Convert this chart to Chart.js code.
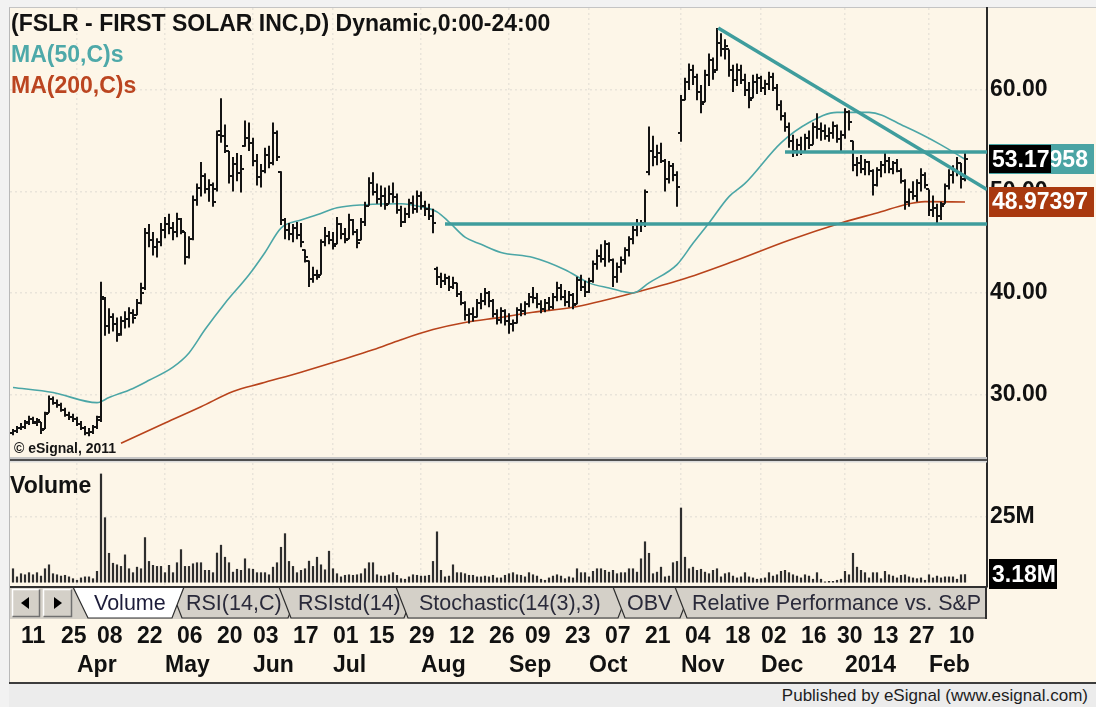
<!DOCTYPE html>
<html>
<head>
<meta charset="utf-8">
<title>FSLR - First Solar daily</title>
<script src="https://cdn.jsdelivr.net/npm/chart.js@4.4.1/dist/chart.umd.min.js"></script>
<style>
html, body { margin: 0; padding: 0; }
body { position: relative; width: 1096px; height: 707px; overflow: hidden; background: #f2f2f2;
  font-family: "Liberation Sans", Arial, sans-serif; }
#panel { position: absolute; left: 9px; top: 7px; width: 1087px; height: 676px; box-sizing: border-box;
  background: #fdf6e8; border-left: 1px solid #b9b9b9; border-top: 1px solid #c4c4c4; }
#footer { position: absolute; left: 9px; top: 682px; width: 1087px; height: 25px; box-sizing: border-box;
  background: #ececec; border-top: 2px solid #3c3c3c; }
#footer span { position: absolute; right: 8px; top: 3px; font-size: 17px; line-height: 17px; color: #1e1e1e; white-space: nowrap; }
#chart { position: absolute; left: 0; top: 0; }
#tabs { position: absolute; left: 0; top: 586px; }
.t { position: absolute; white-space: nowrap; font-weight: bold; font-size: 23px; line-height: 23px; }
</style>
</head>
<body>
<div id="panel"></div>
<div id="footer"><span>Published by eSignal (www.esignal.com)</span></div>
<canvas id="chart" width="1096" height="707"></canvas>

<svg id="tabs" width="987" height="34" xmlns="http://www.w3.org/2000/svg"
     font-family="Liberation Sans, Arial, sans-serif" font-size="21.5">
  <rect x="10" y="1" width="977" height="32" fill="#d4d0c8"/>
  <rect x="12" y="3" width="28" height="28" fill="#d4d0c8"/>
  <path d="M12.5 30.5V3.5H39.5" stroke="#ffffff" stroke-width="1.5" fill="none"/>
  <path d="M12.5 30.5H39.5V3.5" stroke="#707070" stroke-width="1.5" fill="none"/>
  <polygon points="21,17 29,11 29,23" fill="#000"/>
  <rect x="43" y="3" width="29" height="28" fill="#d4d0c8"/>
  <path d="M43.5 30.5V3.5H71.5" stroke="#ffffff" stroke-width="1.5" fill="none"/>
  <path d="M43.5 30.5H71.5V3.5" stroke="#707070" stroke-width="1.5" fill="none"/>
  <polygon points="62,17 54,11 54,23" fill="#000"/>

  <polygon points="170,1 300,1 288,32 182,32" fill="#d4d0c8" stroke="#2e2e2e" stroke-width="1.2"/>
  <text x="186" y="24" fill="#2a2a3a">RSI(14,C)</text>
  <polygon points="279,1 416,1 404,32 291,32" fill="#d4d0c8" stroke="#2e2e2e" stroke-width="1.2"/>
  <text x="298" y="24" fill="#2a2a3a">RSIstd(14)</text>
  <polygon points="396,1 630,1 618,32 408,32" fill="#d4d0c8" stroke="#2e2e2e" stroke-width="1.2"/>
  <text x="419" y="24" fill="#2a2a3a">Stochastic(14(3),3)</text>
  <polygon points="613,1 692,1 680,32 625,32" fill="#d4d0c8" stroke="#2e2e2e" stroke-width="1.2"/>
  <text x="627" y="24" fill="#2a2a3a">OBV</text>
  <polygon points="675,1 1010,1 998,32 687,32" fill="#d4d0c8" stroke="#2e2e2e" stroke-width="1.2"/>
  <text x="692" y="24" fill="#2a2a3a">Relative Performance vs. S&amp;P 500</text>
  <polygon points="73,1 184,1 172,32 88,32" fill="#ffffff" stroke="#2e2e2e" stroke-width="1.2"/>
  <text x="94" y="24" fill="#1c1c3a">Volume</text>

  <line x1="10" y1="1" x2="987" y2="1" stroke="#303030" stroke-width="2"/>
  <line x1="986" y1="1" x2="986" y2="33" stroke="#303030" stroke-width="2"/>
</svg>

<div class="t" style="left:11px;top:12px;color:#121212">(FSLR - FIRST SOLAR INC,D) Dynamic,0:00-24:00</div>
<div class="t" style="left:11px;top:43px;color:#4ea9a9">MA(50,C)s</div>
<div class="t" style="left:11px;top:74px;color:#bb4520">MA(200,C)s</div>
<div class="t" style="left:14px;top:441px;font-size:14px;line-height:14px;color:#151515">© eSignal, 2011</div>
<div class="t" style="left:10px;top:474px;color:#121212">Volume</div>

<script>
// daily bars, 7 Mar 2013 (index 0) to 14 Feb 2014 (index 238), one value per trading day
const opens = [
  26.2,26.4,26.7,26.8,27.2,27.6,27.2,27.3,26.6,28.2,
  29.6,29.2,29.0,28.5,28.0,27.8,27.6,27.1,26.7,26.2,
  26.3,26.8,27.8,39.4,36.8,37.6,36.9,36.0,37.2,37.4,
  38.0,37.8,39.0,40.5,45.9,45.2,44.5,45.0,46.2,46.8,
  46.4,46.0,47.3,46.0,43.5,45.3,49.2,50.3,51.5,50.2,
  50.6,50.2,56.0,55.5,54.0,51.5,52.7,51.8,54.5,55.3,
  54.8,53.0,51.4,52.0,53.6,52.8,55.8,51.9,47.2,46.2,
  45.8,46.4,45.7,44.2,43.2,41.4,41.8,41.8,45.0,45.6,
  45.2,44.8,46.8,45.8,45.3,47.2,46.0,45.2,47.0,48.6,
  50.8,50.0,49.3,49.6,48.8,49.8,49.5,48.2,47.0,47.8,
  48.9,48.3,49.6,48.6,48.3,47.6,42.4,41.6,41.2,41.5,
  40.6,41.0,39.9,39.0,37.8,37.9,37.6,39.0,39.2,40.0,
  39.2,37.9,37.3,38.2,37.2,36.9,37.0,38.3,38.2,38.9,
  39.6,39.5,38.9,38.4,39.0,38.6,39.6,40.5,39.6,39.1,
  39.8,38.9,41.3,40.6,40.1,41.2,42.9,43.6,43.4,44.8,
  43.3,41.6,42.6,43.3,44.2,45.3,46.2,46.8,46.9,51.9,
  54.0,53.4,53.8,53.0,51.2,52.5,51.6,55.8,59.0,60.8,
  62.0,61.3,59.8,58.8,61.5,63.0,62.0,64.6,64.0,64.0,
  62.0,61.0,62.0,61.0,60.0,59.2,60.8,61.2,60.2,60.6,
  61.3,60.2,58.5,57.4,56.4,55.0,54.0,54.6,53.9,55.3,
  54.6,56.4,56.2,56.0,55.5,55.8,56.5,55.2,55.6,57.8,
  55.0,52.6,52.8,52.2,52.9,52.0,50.6,52.1,52.6,53.0,
  52.2,52.8,52.0,51.0,49.0,50.0,49.6,50.8,51.6,50.2,
  48.2,48.4,47.6,48.8,50.5,51.6,52.0,52.8,51.2
];
const highs = [
  26.6,26.9,27.2,27.5,27.9,27.8,27.7,27.3,28.3,29.9,
  29.8,29.5,29.2,28.7,28.3,28.1,27.8,27.4,26.9,26.7,
  27.0,27.9,41.1,39.6,38.5,38.0,37.6,37.7,38.2,38.6,
  38.4,39.4,41.0,46.4,46.8,46.0,45.4,46.9,47.5,47.8,
  47.0,47.9,47.4,46.0,45.6,49.6,50.8,52.9,51.8,51.2,
  50.9,56.0,59.2,56.6,54.0,53.4,53.8,53.6,57.0,56.8,
  55.3,53.7,52.7,54.3,54.5,56.8,56.0,52.0,47.4,46.9,
  46.8,47.0,46.9,44.3,43.2,42.6,42.3,45.3,46.5,46.1,
  46.0,47.5,46.9,46.4,47.8,47.3,46.3,47.4,49.0,51.4,
  51.9,50.8,50.6,50.4,50.6,50.9,49.8,48.6,48.4,49.3,
  49.6,50.1,50.0,49.1,48.8,48.3,42.6,42.0,41.9,41.7,
  41.6,41.0,40.2,39.2,38.5,38.6,39.4,40.0,40.5,40.2,
  39.4,38.4,38.6,38.4,38.0,37.4,38.6,39.0,39.2,40.0,
  40.6,40.0,39.3,39.4,39.6,40.0,41.1,40.9,40.3,40.2,
  40.0,41.6,41.8,41.2,41.5,43.2,44.3,44.8,45.2,45.0,
  43.4,43.0,43.6,44.5,45.6,46.6,47.3,47.2,50.2,56.4,
  55.5,54.6,54.8,53.2,53.0,52.8,52.0,59.5,61.2,62.6,
  62.5,61.6,60.5,62.0,63.6,63.2,66.1,65.6,65.0,64.0,
  62.5,62.6,62.5,61.6,60.8,61.5,61.6,61.4,61.0,61.8,
  61.7,60.6,59.0,57.8,56.8,55.6,55.2,55.4,55.7,56.0,
  56.8,57.7,56.8,56.6,56.3,56.9,56.6,56.0,58.2,58.0,
  55.0,53.4,53.6,53.2,53.0,52.2,52.4,53.0,53.9,53.4,
  53.0,53.2,52.3,51.2,50.3,51.0,51.2,52.3,51.9,50.2,
  49.6,48.8,49.0,50.8,52.2,52.6,53.4,52.8,53.8
];
const lows = [
  26.0,26.2,26.5,26.6,27.0,27.1,26.9,26.1,26.6,28.2,
  29.0,28.7,28.3,27.8,27.5,27.3,26.9,26.5,26.0,25.9,
  26.1,26.6,27.3,35.8,36.0,36.2,35.2,35.8,36.5,36.6,
  37.0,37.8,38.9,40.3,44.5,43.7,43.5,44.6,45.4,45.8,
  45.2,45.5,45.8,42.8,43.4,45.2,48.6,49.5,49.8,49.0,
  48.5,50.0,54.8,53.8,50.8,50.0,51.0,49.9,54.4,54.0,
  52.5,50.6,50.4,51.8,52.3,52.6,53.0,46.7,45.3,45.2,
  45.0,45.3,44.5,43.0,40.6,41.0,41.3,41.8,44.6,44.8,
  44.3,44.8,45.3,44.9,45.3,45.7,44.4,45.2,46.6,48.6,
  49.6,48.8,48.5,48.2,48.8,48.9,47.8,46.5,46.9,47.4,
  47.8,47.9,48.2,47.6,47.2,45.9,40.8,40.5,40.8,40.2,
  40.4,39.6,38.8,37.3,37.0,37.2,37.6,38.4,38.8,38.6,
  37.6,36.9,37.0,36.8,36.0,36.2,37.0,37.7,37.8,38.6,
  39.0,38.5,38.0,38.1,38.3,38.4,39.2,39.3,38.7,38.6,
  38.4,38.9,40.2,39.6,40.0,41.0,42.3,43.0,42.6,43.0,
  40.6,41.0,42.0,42.8,43.6,44.8,45.6,46.0,46.5,51.6,
  52.5,52.6,52.8,50.0,50.8,51.0,48.5,54.9,59.0,60.0,
  60.5,59.0,57.7,58.8,60.4,61.0,61.9,63.3,63.0,61.3,
  59.8,60.4,60.6,59.4,58.2,59.2,59.6,59.8,59.5,60.0,
  59.9,58.0,57.0,55.9,54.3,53.4,53.5,53.6,53.8,54.2,
  54.6,55.2,55.0,55.1,54.9,55.2,54.8,54.0,55.2,56.0,
  52.0,51.5,51.8,51.6,51.6,49.6,50.5,51.4,51.8,51.8,
  51.7,51.9,50.8,48.2,48.5,49.2,49.0,50.0,50.3,47.6,
  47.5,46.9,47.2,48.8,50.2,50.8,51.5,50.3,51.0
];
const closes = [
  26.4,26.7,26.8,27.3,27.6,27.3,27.5,26.5,28.1,29.6,
  29.2,29.0,28.5,28.0,27.8,27.6,27.1,26.7,26.2,26.3,
  26.8,27.5,39.6,36.8,37.6,36.9,35.9,37.2,37.4,38.0,
  37.5,39.0,40.0,45.9,45.2,44.5,45.0,46.2,46.8,46.4,
  46.0,47.3,46.1,43.5,45.3,49.2,50.3,51.5,50.2,50.6,
  49.0,55.6,55.5,54.5,51.5,52.7,51.8,52.2,55.3,54.8,
  53.0,51.4,52.0,53.6,52.8,55.8,53.4,47.2,46.2,45.8,
  46.4,45.7,45.0,43.5,41.4,41.8,41.6,45.0,45.6,45.2,
  44.6,46.8,45.8,45.2,47.2,46.0,44.9,47.0,48.6,50.8,
  50.0,49.3,49.6,48.7,49.8,49.5,48.2,47.0,47.8,48.9,
  48.3,49.6,48.6,48.3,47.6,46.9,41.6,41.2,41.5,40.6,
  41.0,39.9,39.0,37.8,37.9,37.6,39.0,39.2,40.0,39.2,
  37.9,37.3,38.2,37.2,36.9,37.0,38.3,38.2,38.9,39.6,
  39.5,38.9,38.4,39.0,38.6,39.6,40.5,39.6,39.1,39.8,
  38.8,41.3,40.6,40.1,41.2,42.9,43.6,43.4,44.8,43.3,
  41.6,42.6,43.3,44.2,45.3,46.2,46.8,46.9,50.0,54.0,
  53.4,53.8,53.0,51.2,52.5,51.6,50.4,59.0,60.8,62.0,
  61.3,59.8,58.6,61.5,63.0,61.8,64.6,64.0,64.3,62.0,
  61.0,62.0,61.0,60.0,59.0,60.8,61.2,60.2,60.6,61.3,
  60.2,58.5,57.4,56.4,55.0,54.0,54.6,53.9,55.3,54.6,
  56.4,56.2,56.0,55.5,55.8,56.5,55.2,55.6,57.8,56.8,
  52.6,52.8,52.2,52.9,52.0,50.6,52.1,52.6,53.0,52.2,
  52.8,52.0,51.0,49.0,50.0,49.6,50.8,51.6,50.6,48.2,
  48.4,47.6,48.6,50.5,51.6,52.0,52.8,51.2,53.17
];
// volume in millions of shares
const volumes = [
  5.4,2.3,3.5,3.1,3.9,3.1,3.9,2.6,5.4,6.9,
  3.5,3.1,2.6,2.9,2.3,1.6,1.0,1.9,2.3,2.3,
  1.6,4.4,41.6,24.9,11.3,7.5,6.9,6.3,10.7,5.4,
  3.9,6.0,5.4,17.3,8.2,6.7,6.3,6.3,3.9,6.7,
  3.9,7.7,12.7,6.3,6.3,7.3,7.7,7.7,4.8,4.8,
  3.9,11.4,14.4,9.8,7.7,4.1,5.2,4.8,9.2,5.4,
  5.2,3.9,3.9,3.9,3.1,6.0,7.7,13.6,18.8,8.2,
  6.3,3.9,4.8,5.4,8.3,6.3,9.8,6.9,5.0,12.1,
  5.4,3.5,2.3,2.9,3.1,2.9,3.1,3.5,5.4,7.7,
  7.7,3.1,2.6,2.6,3.1,3.9,2.9,1.6,1.4,2.3,
  3.1,2.9,2.6,2.6,2.9,8.2,19.5,4.8,2.3,2.6,
  6.9,3.9,3.9,3.5,2.9,2.9,2.3,2.3,2.6,2.3,
  2.9,1.9,1.9,2.9,3.5,3.9,3.1,2.9,2.3,3.9,
  3.1,2.6,1.4,1.0,1.9,2.6,3.1,2.6,1.6,2.3,
  1.9,5.4,3.9,3.9,2.3,4.4,5.4,5.4,4.8,4.1,
  4.8,3.5,3.9,3.9,5.4,5.4,4.1,9.2,15.7,11.3,
  3.5,4.1,6.0,2.3,2.6,7.7,8.2,28.6,9.8,5.4,
  6.0,4.8,5.2,4.1,3.5,4.8,5.4,2.3,3.5,3.9,
  2.6,1.9,2.3,3.9,2.3,1.9,1.4,1.6,1.9,3.9,
  2.6,3.1,4.4,4.8,3.9,3.1,2.6,1.9,3.1,2.6,
  1.4,3.9,1.4,0.4,0.6,0.6,1.0,1.4,4.4,3.1,
  11.3,6.0,4.8,3.9,1.9,3.9,3.9,1.6,4.4,3.1,
  2.6,1.9,2.9,3.1,2.3,1.9,1.6,1.9,1.0,3.1,
  1.9,2.6,1.9,2.3,2.3,2.3,1.4,3.1,3.18
];

// moving averages (trading-day index, value)
const ma50Idx = [0,10,21,24,30,34,40,44,48,53,59,63,67,72,76,81,88,97,102,106,109,113,117,122,130,138,144,149,155,159,166,170,174,179,183,192,199,206,214,223,232,238];
const ma50Val = [30.7,30.2,29.2,29.7,30.6,31.4,32.7,34.1,36.4,39.0,41.8,44.0,46.4,47.2,47.7,48.4,48.7,48.8,48.5,48.0,47.0,45.5,44.8,44.0,43.5,42.3,41.0,40.5,40.0,41.0,42.8,44.9,46.9,49.5,50.8,54.8,56.8,57.8,57.8,56.4,54.6,53.18];
const ma200Idx = [27,38,47,55,62,72,82,90,97,105,113,122,130,140,155,167,180,194,207,217,223,228,238];
const ma200Val = [25.2,27.2,28.8,30.3,31.1,32.2,33.4,34.4,35.4,36.4,37.1,37.6,38.1,38.6,40.0,41.3,43.1,45.2,46.9,48.0,48.7,49.0,48.97];

// hand-drawn trend lines: [index, price] pairs
const supportLow = [[108, 46.8], [243.5, 46.8]];
const supportHigh = [[193, 53.9], [243.5, 53.9]];
const downTrend = [[176.3, 66.1], [243.5, 50.2]];

// last values shown in the right-hand tags
const lastClose = 53.17;
const lastMa50 = 53.17958;
const lastMa200 = 48.97397;
const lastVolume = 3.18;

// axes
const dayTickIdx = [2,12,21,31,41,51,60,70,80,89,99,109,119,128,138,148,158,168,178,187,197,206,215,224,234];
const dayTickText = ['11','25','08','22','06','20','03','17','01','15','29','12','26','09','23','07','21','04','18','02','16','30','13','27','10'];
const monthTickIdx = [16,38,60,80,102,124,144,167,187,208,229];
const monthTickText = ['Apr','May','Jun','Jul','Aug','Sep','Oct','Nov','Dec','2014','Feb'];
const priceTicks = [30, 40, 50, 60];
const volumeTicks = [25];

const TEAL = '#3f9d9d';
const MA50_COLOR = '#4ba6a6';
const MA200_COLOR = '#b8431b';
const BAR_COLOR = '#141414';
const GRID = '#e9e4da';

Chart.defaults.font.family = '"Liberation Sans", Arial, sans-serif';

function tickImage(side) {
  var c = document.createElement('canvas');
  c.width = 6;
  c.height = 2;
  var g = c.getContext('2d');
  g.fillStyle = BAR_COLOR;
  if (side === 'left') {
    g.fillRect(0, 0, 3, 2);
  } else {
    g.fillRect(3, 0, 3, 2);
  }
  return c;
}

function toPoints(pairs) {
  return pairs.map(p => ({ x: p[0], y: p[1] }));
}

function trendSet(pairs) {
  return {
    type: 'line', data: toPoints(pairs), yAxisID: 'y',
    borderColor: TEAL, borderWidth: 3.5, pointRadius: 0, tension: 0
  };
}

function noPad(s) {
  s.paddingLeft = 0;
  s.paddingRight = 0;
  s.paddingTop = 0;
  s.paddingBottom = 0;
}

function drawTag(ctx, x, y, w, h, fill, text) {
  ctx.fillStyle = fill;
  ctx.fillRect(x, Math.round(y - h / 2), w, h);
  ctx.fillStyle = '#ffffff';
  ctx.textAlign = 'left';
  ctx.textBaseline = 'middle';
  ctx.fillText(text, x + 3, y + 1);
}

const panelDecor = {
  id: 'panelDecor',
  afterDraw(chart) {
    const ctx = chart.ctx;
    const a = chart.chartArea;
    const y = chart.scales.y;
    const yv = chart.scales.yv;
    const split = y.bottom;
    ctx.save();
    // separator between price and volume panes
    ctx.fillStyle = '#c6c6c6';
    ctx.fillRect(a.left, split - 3, a.right - a.left, 2);
    ctx.fillStyle = '#4e4e4e';
    ctx.fillRect(a.left, split - 1, a.right - a.left, 2);
    ctx.fillStyle = '#dcdcdc';
    ctx.fillRect(a.left, split + 1, a.right - a.left, 1.5);

    ctx.font = 'bold 23px "Liberation Sans", Arial, sans-serif';
    const tx = a.right + 2;
    drawTag(ctx, tx, y.getPixelForValue(lastMa50), 105, 30, '#4aa4a4', lastMa50.toFixed(5));
    drawTag(ctx, tx, y.getPixelForValue(lastClose), 62, 28, '#000000', lastClose.toFixed(2));
    drawTag(ctx, tx, y.getPixelForValue(lastMa200), 105, 30, '#a9390f', lastMa200.toFixed(5));
    drawTag(ctx, tx, yv.getPixelForValue(lastVolume), 68, 30, '#000000', lastVolume.toFixed(2) + 'M');
    ctx.restore();
  }
};

const openTick = tickImage('left');
const closeTick = tickImage('right');
const labelFont = { size: 23, weight: 'bold' };

new Chart(document.getElementById('chart'), {
  type: 'bar',
  data: {
    datasets: [
      trendSet(supportLow),
      trendSet(supportHigh),
      trendSet(downTrend),
      {
        type: 'line', yAxisID: 'y', showLine: false,
        data: opens.map((v, i) => ({ x: i, y: v })),
        pointStyle: openTick, pointRadius: 3, pointHoverRadius: 3
      },
      {
        type: 'line', yAxisID: 'y', showLine: false,
        data: closes.map((v, i) => ({ x: i, y: v })),
        pointStyle: closeTick, pointRadius: 3, pointHoverRadius: 3
      },
      {
        type: 'bar', yAxisID: 'y',
        data: highs.map((h, i) => ({ x: i, y: [lows[i], h] })),
        backgroundColor: BAR_COLOR, grouped: false,
        categoryPercentage: 1, barPercentage: 0.5
      },
      {
        type: 'line', yAxisID: 'y',
        data: ma50Idx.map((d, i) => ({ x: d, y: ma50Val[i] })),
        borderColor: MA50_COLOR, borderWidth: 1.6, pointRadius: 0,
        cubicInterpolationMode: 'monotone'
      },
      {
        type: 'line', yAxisID: 'y',
        data: ma200Idx.map((d, i) => ({ x: d, y: ma200Val[i] })),
        borderColor: MA200_COLOR, borderWidth: 1.6, pointRadius: 0,
        cubicInterpolationMode: 'monotone'
      },
      {
        type: 'bar', yAxisID: 'yv',
        data: volumes.map((v, i) => ({ x: i, y: v })),
        backgroundColor: '#2e2e2e', grouped: false,
        categoryPercentage: 1, barPercentage: 0.55
      }
    ]
  },
  options: {
    responsive: false,
    animation: false,
    events: [],
    layout: { padding: { left: 10, top: 8, right: 0, bottom: 23 } },
    plugins: { legend: { display: false }, tooltip: { enabled: false } },
    scales: {
      x: {
        type: 'linear', position: 'bottom', min: -0.75, max: 243.5, offset: false,
        afterBuildTicks: s => { s.ticks = dayTickIdx.map(v => ({ value: v })); },
        afterFit: s => { noPad(s); s.height = 61; },
        grid: { display: false, drawTicks: false, offset: false },
        border: { display: false },
        ticks: {
          align: 'start', autoSkip: false, maxRotation: 0, minRotation: 0, padding: 36,
          color: '#111111', font: labelFont,
          callback: (v, i) => dayTickText[i]
        }
      },
      xm: {
        type: 'linear', position: 'bottom', min: -0.75, max: 243.5, offset: false,
        afterBuildTicks: s => { s.ticks = monthTickIdx.map(v => ({ value: v })); },
        afterFit: s => { noPad(s); s.height = 36; },
        grid: { color: GRID, lineWidth: 1.5, drawTicks: false, offset: false },
        border: { display: false, dash: [2, 3] },
        ticks: {
          align: 'start', autoSkip: false, maxRotation: 0, minRotation: 0, padding: 4,
          color: '#111111', font: labelFont,
          callback: (v, i) => monthTickText[i]
        }
      },
      y: {
        type: 'linear', position: 'right', stack: 'pane', stackWeight: 452,
        min: 23.55, max: 68.08,
        afterBuildTicks: s => { s.ticks = priceTicks.map(v => ({ value: v })); },
        afterFit: s => { noPad(s); s.width = 109; },
        grid: { color: GRID, lineWidth: 1.5, drawTicks: false },
        border: { display: true, color: '#2b2b2b', width: 2, dash: [2, 3] },
        ticks: { padding: 3, color: '#111111', font: labelFont, callback: v => v.toFixed(2) }
      },
      yv: {
        type: 'linear', position: 'right', stack: 'pane', stackWeight: 127,
        min: -1.7, max: 46.8,
        afterBuildTicks: s => { s.ticks = volumeTicks.map(v => ({ value: v })); },
        afterFit: s => { noPad(s); s.width = 109; },
        grid: { color: GRID, lineWidth: 1.5, drawTicks: false },
        border: { display: true, color: '#2b2b2b', width: 2, dash: [2, 3] },
        ticks: { padding: 3, color: '#111111', font: labelFont, callback: v => v + 'M' }
      }
    }
  },
  plugins: [panelDecor]
});
</script>
</body>
</html>
